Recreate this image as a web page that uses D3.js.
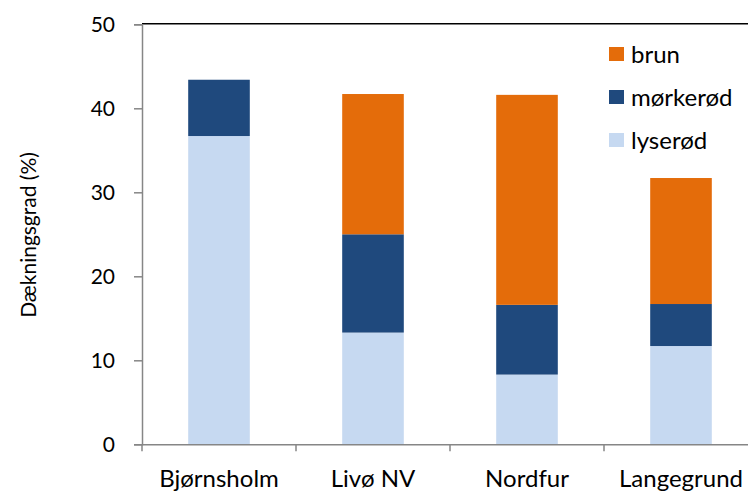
<!DOCTYPE html>
<html><head><meta charset="utf-8">
<script src="https://cdn.jsdelivr.net/npm/d3@7"></script>
<style>body{margin:0;background:#fff}svg text{font-family:Lato,"Open Sans",sans-serif;fill:#000}</style>
</head><body><svg id="c" width="748" height="492"></svg>
<script>
const categories = ["Bjørnsholm","Livø NV","Nordfur","Langegrund"];
const lyserod = [36.7, 13.3, 8.3, 11.7];
const morkerod = [6.7, 11.7, 8.3, 5.0];
const brun = [0, 16.7, 25.0, 15.0];
const seriesNames = ["lyserød","mørkerød","brun"];
const seriesColors = ["#C6D9F1","#1F497D","#E46C0A"];
const yTicks = [0,10,20,30,40,50];

const FONT = "Lato,'Open Sans',sans-serif";
const svg = d3.select("#c");
const L = 142, R = 758, T = 24.3, B = 444.3;
const x = d3.scaleBand().domain(categories).range([L,R]).paddingInner(0.6).paddingOuter(0.3);
const y = d3.scaleLinear().domain([0,50]).range([B,T]);

const rows = categories.map((c,i)=>({cat:c, "lyserød":lyserod[i], "mørkerød":morkerod[i], "brun":brun[i]}));
const stack = d3.stack().keys(seriesNames)(rows);

svg.append("g").selectAll("g").data(stack).join("g")
  .attr("fill",(d,i)=>seriesColors[i])
  .selectAll("rect").data(d=>d).join("rect")
  .attr("x",d=>x(d.data.cat)).attr("width",x.bandwidth())
  .attr("y",d=>y(d[1])).attr("height",d=>y(d[0])-y(d[1]));

// top border line
svg.append("line").attr("x1",L).attr("x2",R).attr("y1",T-0.5).attr("y2",T-0.5).attr("stroke","#000").attr("stroke-width",1.5);

const ya = svg.append("g").attr("transform",`translate(${L},0)`)
  .call(d3.axisLeft(y).tickValues(yTicks).tickSize(8).tickPadding(19));
const xb = d3.scaleBand().domain(categories).range([L,R]);
const xa = svg.append("g").attr("transform",`translate(0,${B})`)
  .call(d3.axisBottom(xb).tickSize(0).tickPadding(26));
// x tick marks at band boundaries
svg.append("g").selectAll("line").data(d3.range(categories.length+1)).join("line")
  .attr("x1",i=>L+i*xb.step()).attr("x2",i=>L+i*xb.step())
  .attr("y1",B).attr("y2",B+7).attr("stroke","#868686").attr("stroke-width",1.5);
[ya,xa].forEach(a=>{a.select(".domain").attr("stroke","#868686").attr("stroke-width",1.5);
  a.selectAll(".tick line").attr("stroke","#868686").attr("stroke-width",1.5);
  a.selectAll("text").attr("fill","#000").style("font-family",FONT);});
ya.selectAll("text").attr("font-size",21);
xa.selectAll("text").attr("font-size",24);

svg.append("text").attr("transform","translate(36,235) rotate(-90)").attr("text-anchor","middle")
  .attr("font-size",21).text("Dækningsgrad (%)");

const legendOrder = ["brun","mørkerød","lyserød"];
const lg = svg.append("g").selectAll("g").data(legendOrder).join("g")
  .attr("transform",(d,i)=>`translate(609,${47+i*43})`);
lg.append("rect").attr("width",15).attr("height",14).attr("fill",d=>seriesColors[seriesNames.indexOf(d)]);
lg.append("text").attr("x",22).attr("y",15.5).attr("font-size",24).text(d=>d);
</script></body></html>
